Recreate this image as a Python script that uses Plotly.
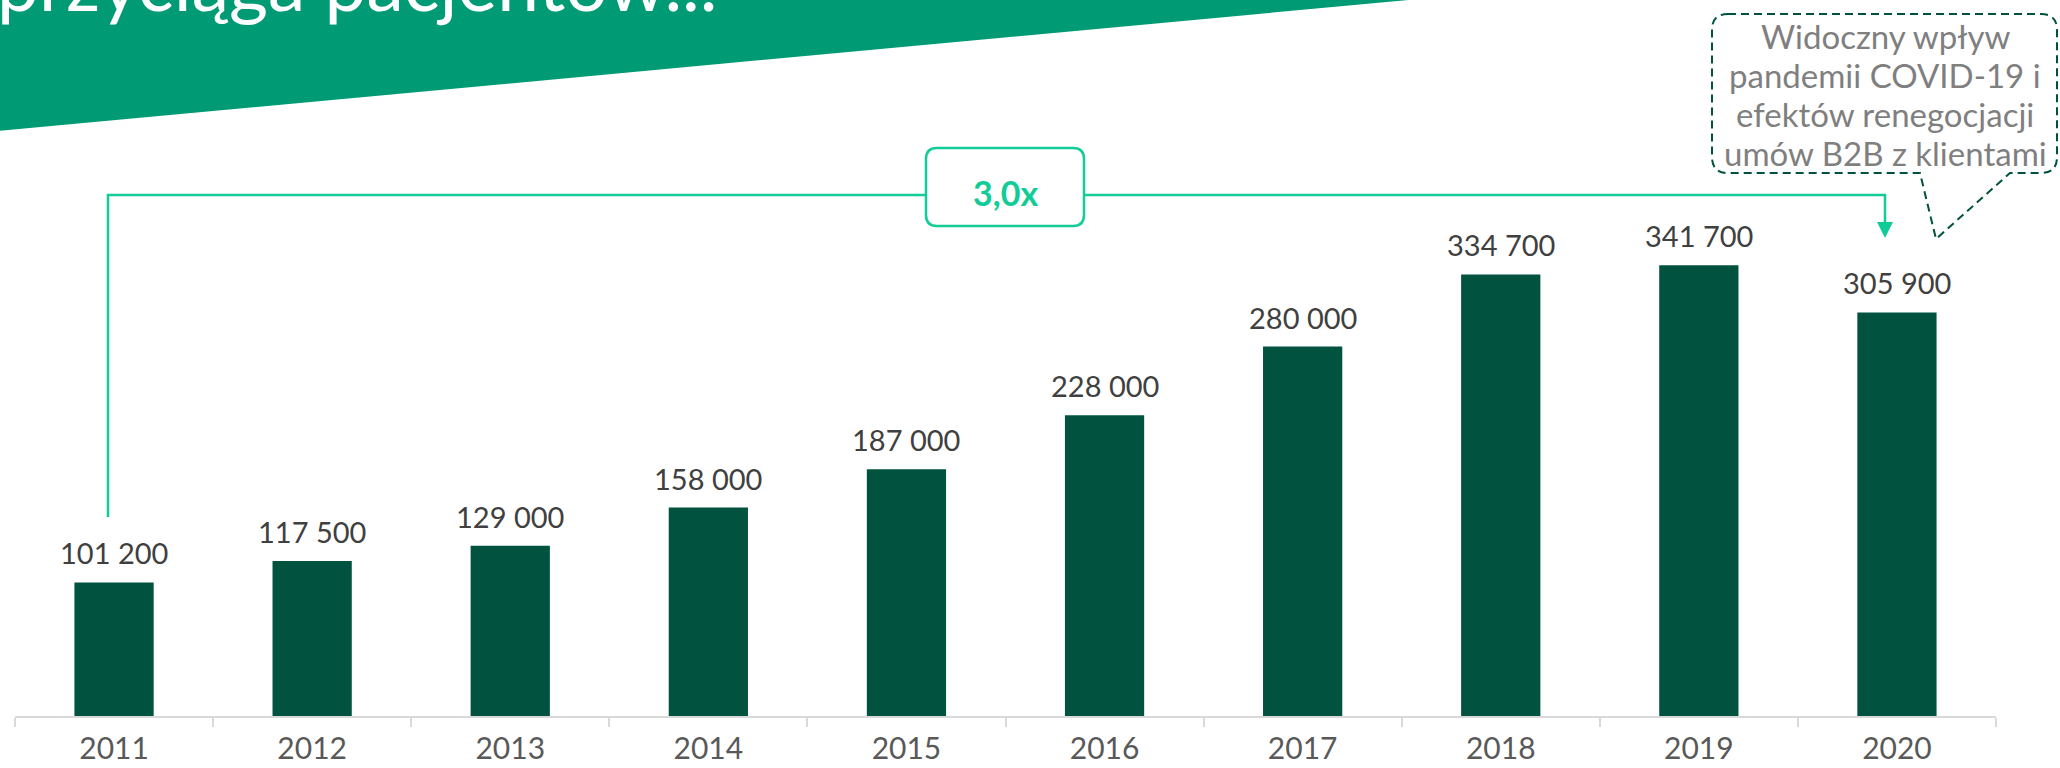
import plotly.graph_objects as go

# ---------------- data ----------------
years = ["2011", "2012", "2013", "2014", "2015", "2016", "2017", "2018", "2019", "2020"]
patients = [101200, 117500, 129000, 158000, 187000, 228000, 280000, 334700, 341700, 305900]
multiplier_label = "3,0x"
title_text = "przyciąga pacjentów..."
callout_lines = ["Widoczny wpływ", "pandemii COVID-19 i", "efektów renegocjacji", "umów B2B z klientami"]

# ---------------- styling / layout ----------------
W, H = 2060, 768
ML, MR, MT, MB = 15, 64, 0, 52
PW, PH = W - ML - MR, H - MT - MB
BAR = "#01533F"
TEAL = "#12CC98"
BANNER = "#009B75"
DASH = "#00513F"
FONT = "Lato"


def px(x):
    return (x - ML) / PW


def py(y):
    return (H - MB - y) / PH


def pts(seq):
    return [(px(x), py(y)) for x, y in seq]


def fmt(v):
    return f"{v:,}".replace(",", " ")


fig = go.Figure()
fig.add_trace(go.Bar(x=years, y=patients, width=0.4,
                     marker=dict(color=BAR, line=dict(width=0)),
                     hoverinfo="skip"))

shapes = []

# title banner (triangle)
tri = pts([(-2, -2), (1430, -2), (-2, 131)])
shapes.append(dict(type="path", xref="paper", yref="paper", layer="below",
                   path="M {} {} L {} {} L {} {} Z".format(*tri[0], *tri[1], *tri[2]),
                   fillcolor=BANNER, line=dict(width=0)))

# growth bracket line
b = pts([(108, 517), (108, 195), (1885, 195), (1885, 224)])
shapes.append(dict(type="path", xref="paper", yref="paper",
                   path="M {} {} L {} {} L {} {} L {} {}".format(*b[0], *b[1], *b[2], *b[3]),
                   fillcolor="rgba(0,0,0,0)", line=dict(color=TEAL, width=2.5)))
# arrow head
a = pts([(1877, 222), (1893, 222), (1885, 238)])
shapes.append(dict(type="path", xref="paper", yref="paper",
                   path="M {} {} L {} {} L {} {} Z".format(*a[0], *a[1], *a[2]),
                   fillcolor=TEAL, line=dict(width=0)))

P = lambda x, y: "{} {}".format(px(x), py(y))


def rounded_rect(x0, y0, x1, y1, r):
    return ("M " + P(x0 + r, y0) + " L " + P(x1 - r, y0) + " Q " + P(x1, y0) + " " + P(x1, y0 + r) +
            " L " + P(x1, y1 - r) + " Q " + P(x1, y1) + " " + P(x1 - r, y1) +
            " L " + P(x0 + r, y1) + " Q " + P(x0, y1) + " " + P(x0, y1 - r) +
            " L " + P(x0, y0 + r) + " Q " + P(x0, y0) + " " + P(x0 + r, y0) + " Z")


# multiplier box
shapes.append(dict(type="path", xref="paper", yref="paper",
                   path=rounded_rect(926, 148, 1084, 226, 11),
                   fillcolor="white", line=dict(color=TEAL, width=2.5)))

# callout with tail (dashed)
x0, y0, x1, y1, r = 1712, 14, 2057, 173, 16
callout = ("M " + P(x0 + r, y0) + " L " + P(x1 - r, y0) + " Q " + P(x1, y0) + " " + P(x1, y0 + r) +
           " L " + P(x1, y1 - r) + " Q " + P(x1, y1) + " " + P(x1 - r, y1) +
           " L " + P(2010, y1) + " L " + P(1936, 239) + " L " + P(1920, y1) +
           " L " + P(x0 + r, y1) + " Q " + P(x0, y1) + " " + P(x0, y1 - r) +
           " L " + P(x0, y0 + r) + " Q " + P(x0, y0) + " " + P(x0 + r, y0) + " Z")
shapes.append(dict(type="path", xref="paper", yref="paper", path=callout,
                   fillcolor="rgba(0,0,0,0)", line=dict(color=DASH, width=2, dash="8px,5px")))

annotations = []
for i, v in enumerate(patients):
    annotations.append(dict(x=i, y=v, xref="x", yref="y", text=fmt(v), showarrow=False,
                            xanchor="center", yanchor="bottom", yshift=10,
                            font=dict(family=FONT, size=29, color="#404040")))

annotations.append(dict(x=px(-5), y=py(29), xref="paper", yref="paper", text=title_text,
                        showarrow=False, xanchor="left", yanchor="bottom",
                        font=dict(family=FONT, size=75, color="white")))

annotations.append(dict(x=px(1005), y=py(193), xref="paper", yref="paper",
                        text="<b>" + multiplier_label + "</b>", showarrow=False,
                        xanchor="center", yanchor="middle",
                        font=dict(family=FONT, size=34, color=TEAL)))

line_centers = [36, 75, 114, 153]
for txt, cy in zip(callout_lines, line_centers):
    annotations.append(dict(x=px(1885), y=py(cy), xref="paper", yref="paper",
                            text=txt, showarrow=False, align="center",
                            xanchor="center", yanchor="middle",
                            font=dict(family=FONT, size=33, color="#7F7F7F")))

fig.update_layout(
    width=W, height=H, autosize=False,
    margin=dict(l=ML, r=MR, t=MT, b=MB, pad=0, autoexpand=False),
    paper_bgcolor="white", plot_bgcolor="white",
    showlegend=False,
    shapes=shapes, annotations=annotations,
    xaxis=dict(type="category", range=[-0.5, len(years) - 0.5], showgrid=False,
               automargin=False,
               showline=True, linecolor="#D9D9D9", linewidth=2,
               ticks="outside", tickson="boundaries", ticklen=9, tickwidth=1.5,
               tickcolor="#D9D9D9", ticklabelstandoff=5,
               tickfont=dict(family=FONT, size=30, color="#595959")),
    yaxis=dict(range=[0, 542700], visible=False, showgrid=False, zeroline=False,
               automargin=False),
)

fig.write_html("out.html",
               config={"displayModeBar": False},
               post_script="document.body.style.margin='0';document.body.style.padding='0';"
                           "document.documentElement.style.overflow='hidden';")
